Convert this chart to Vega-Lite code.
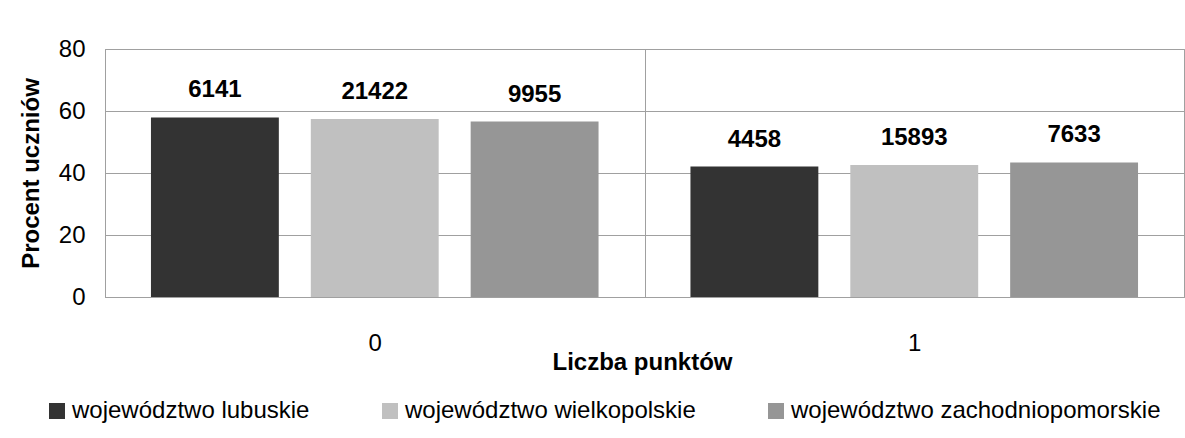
{
  "$schema": "https://vega.github.io/schema/vega-lite/v6.json",
  "width": 1079,
  "height": 248,
  "autosize": {"type": "none"},
  "padding": {"left": 105, "top": 49, "right": 1, "bottom": 141},
  "background": "white",
  "config": {
    "font": "Liberation Sans",
    "view": {"stroke": "#a0a0a0", "strokeWidth": 1},
    "axis": {"labelColor": "#000000", "titleColor": "#000000"}
  },
  "data": {
    "values": [
      {"punkty": "0", "woj": "województwo lubuskie", "procent": 57.94, "liczba": 6141},
      {"punkty": "0", "woj": "województwo wielkopolskie", "procent": 57.41, "liczba": 21422},
      {"punkty": "0", "woj": "województwo zachodniopomorskie", "procent": 56.60, "liczba": 9955},
      {"punkty": "1", "woj": "województwo lubuskie", "procent": 42.06, "liczba": 4458},
      {"punkty": "1", "woj": "województwo wielkopolskie", "procent": 42.59, "liczba": 15893},
      {"punkty": "1", "woj": "województwo zachodniopomorskie", "procent": 43.40, "liczba": 7633}
    ]
  },
  "encoding": {
    "x": {
      "field": "punkty",
      "type": "nominal",
      "scale": {"paddingInner": 0, "paddingOuter": 0},
      "axis": {
        "title": "Liczba punktów",
        "labelAngle": 0,
        "labelFontSize": 24,
        "labelPadding": 34,
        "ticks": false,
        "tickBand": "extent",
        "grid": true,
        "gridColor": "#a0a0a0",
        "gridWidth": 1,
        "domainColor": "#a0a0a0",
        "titleFontSize": 24,
        "titleFontWeight": "bold",
        "titleBaseline": "alphabetic",
        "titleY": 72,
        "titleX": 537
      }
    },
    "xOffset": {
      "field": "woj",
      "type": "nominal",
      "scale": {"paddingInner": 0.2, "paddingOuter": 0.2875}
    }
  },
  "layer": [
    {
      "mark": {"type": "bar"},
      "encoding": {
        "y": {
          "field": "procent",
          "type": "quantitative",
          "scale": {"domain": [0, 80], "nice": false},
          "axis": {
            "title": "Procent uczniów",
            "values": [0, 20, 40, 60, 80],
            "labelFontSize": 24,
            "labelPadding": 20,
            "ticks": false,
            "grid": true,
            "gridColor": "#a0a0a0",
            "gridWidth": 1,
            "domainColor": "#a0a0a0",
            "titleFontSize": 24,
            "titleFontWeight": "bold",
            "titleAngle": -90,
            "titleAlign": "center",
            "titleBaseline": "alphabetic",
            "titleX": -67,
            "titleY": 124
          }
        },
        "color": {
          "field": "woj",
          "type": "nominal",
          "scale": {"range": ["#333333", "#c0c0c0", "#969696"]},
          "legend": {
            "title": null,
            "orient": "none",
            "direction": "horizontal",
            "legendX": -60,
            "legendY": 350,
            "padding": 0,
            "symbolType": "square",
            "symbolSize": 256,
            "symbolStrokeWidth": 0,
            "symbolOpacity": 1,
            "labelFontSize": 24,
            "labelColor": "#000000",
            "labelOffset": 3,
            "columnPadding": 68,
            "labelLimit": 500
          }
        }
      }
    },
    {
      "mark": {"type": "text", "fontSize": 24, "fontWeight": "bold", "baseline": "alphabetic", "dy": -20, "color": "#000000"},
      "encoding": {
        "y": {"field": "procent", "type": "quantitative"},
        "text": {"field": "liczba", "type": "quantitative", "format": "d"}
      }
    }
  ]
}
